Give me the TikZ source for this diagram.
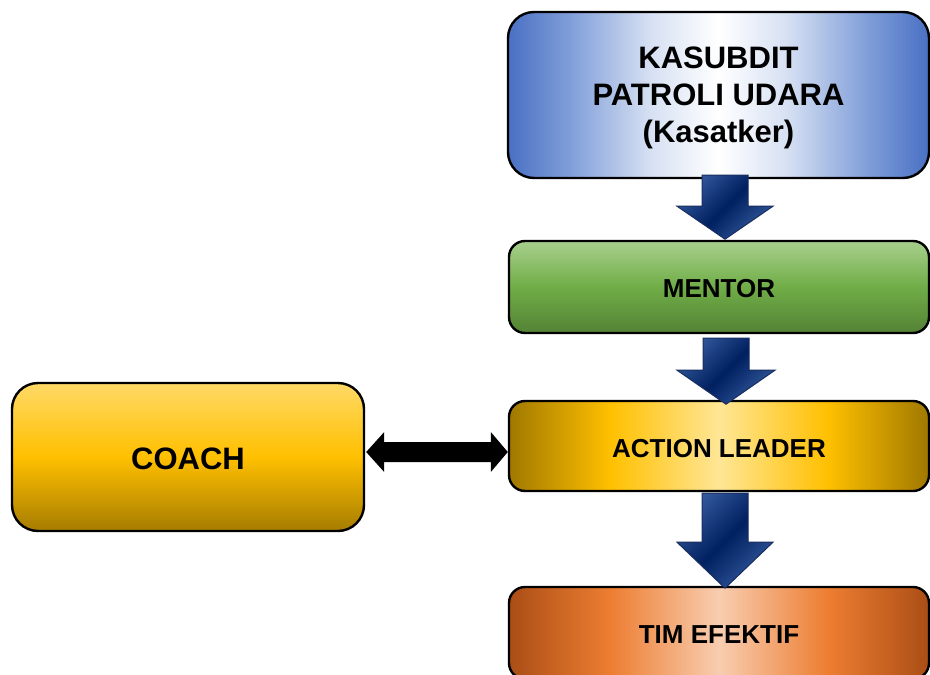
\documentclass[tikz,border=0pt]{standalone}
\usepackage{fontspec}
\setmainfont{Liberation Sans}
\usetikzlibrary{calc}
\definecolor{kasA}{RGB}{74,112,196}
\definecolor{kasB}{RGB}{125,156,216}
\definecolor{kasC}{RGB}{215,225,243}
\definecolor{menTop}{RGB}{168,208,141}
\definecolor{menMid}{RGB}{112,173,71}
\definecolor{menBot}{RGB}{84,130,53}
\definecolor{actEdge}{RGB}{160,120,0}
\definecolor{actMid}{RGB}{255,192,0}
\definecolor{actCen}{RGB}{255,230,150}
\definecolor{timEdge}{RGB}{170,78,22}
\definecolor{timMid}{RGB}{237,125,49}
\definecolor{timCen}{RGB}{248,205,176}
\definecolor{coaTop}{RGB}{255,217,102}
\definecolor{coaMid}{RGB}{255,192,0}
\definecolor{coaBot}{RGB}{166,124,0}
\definecolor{arrL}{RGB}{50,88,156}
\definecolor{arrD}{RGB}{0,32,96}
\definecolor{arrB}{RGB}{25,45,95}
\pgfdeclarehorizontalshading{kasshade}{100bp}{color(0bp)=(kasA); color(25bp)=(kasA); color(32bp)=(kasB); color(42bp)=(kasC); color(50bp)=(white); color(58bp)=(kasC); color(68bp)=(kasB); color(75bp)=(kasA); color(100bp)=(kasA)}
\pgfdeclareverticalshading{menshade}{100bp}{color(0bp)=(menBot); color(25bp)=(menBot); color(50bp)=(menMid); color(75bp)=(menTop); color(100bp)=(menTop)}
\pgfdeclarehorizontalshading{actshade}{100bp}{color(0bp)=(actEdge); color(25bp)=(actEdge); color(37bp)=(actMid); color(50bp)=(actCen); color(63bp)=(actMid); color(75bp)=(actEdge); color(100bp)=(actEdge)}
\pgfdeclarehorizontalshading{timshade}{100bp}{color(0bp)=(timEdge); color(25bp)=(timEdge); color(37bp)=(timMid); color(50bp)=(timCen); color(63bp)=(timMid); color(75bp)=(timEdge); color(100bp)=(timEdge)}
\pgfdeclareverticalshading{coashade}{100bp}{color(0bp)=(coaBot); color(25bp)=(coaBot); color(50bp)=(coaMid); color(75bp)=(coaTop); color(100bp)=(coaTop)}
\begin{document}
\begin{tikzpicture}[x=1pt,y=-1pt,
  box/.style={draw=black, line width=2.4pt, inner sep=0pt, shade,
    font=\bfseries\fontsize{26}{31}\selectfont},
  bluearr/.style={draw=arrB, line width=1pt, top color=arrL, bottom color=arrL, middle color=arrD, shading angle=45},
  dblarr/.style={fill=black}]
\useasboundingbox (0,0) rectangle (930,675);
\node[box, shading=kasshade, minimum width=421pt, minimum height=166pt, rounded corners=26pt,
  font=\bfseries\fontsize{31}{37}\selectfont] (kas) at (718.5,95)
  {\raisebox{-3pt}[\height][\depth]{\begin{tabular}{@{}c@{}}KASUBDIT\\PATROLI UDARA\\(Kasatker)\end{tabular}}};
\node[box, shading=menshade, minimum width=420pt, minimum height=92pt, rounded corners=16pt] (men) at (719,287) {\raisebox{-2pt}[\height][\depth]{MENTOR}};
\node[box, shading=actshade, minimum width=420pt, minimum height=90pt, rounded corners=16pt] (act) at (719,446) {\raisebox{-2.5pt}[\height][\depth]{ACTION LEADER}};
\node[box, shading=timshade, minimum width=420pt, minimum height=92pt, rounded corners=16pt] (tim) at (719,633) {\raisebox{-2pt}[\height][\depth]{TIM EFEKTIF}};
\node[box, shading=coashade, minimum width=352pt, minimum height=148pt, rounded corners=26pt,
  font=\bfseries\fontsize{31}{36}\selectfont] (coach) at (188,457) {\raisebox{-2pt}[\height][\depth]{COACH}};
% blue block arrows
\coordinate (a1) at ($(kas.south)+(6.5,-4)$);
\draw[bluearr] ($(a1)+(-23,0)$) -- ($(a1)+(23,0)$) -- ($(a1)+(23,31)$) -- ($(a1)+(48,31)$) -- ($(a1)+(0,64)$) -- ($(a1)+(-48,31)$) -- ($(a1)+(-23,31)$) -- cycle;
\coordinate (a2) at ($(men.south)+(7,4)$);
\draw[bluearr] ($(a2)+(-23,0)$) -- ($(a2)+(23,0)$) -- ($(a2)+(23,32)$) -- ($(a2)+(49,32)$) -- ($(a2)+(0,66)$) -- ($(a2)+(-49,32)$) -- ($(a2)+(-23,32)$) -- cycle;
\coordinate (a3) at ($(act.south)+(6,1)$);
\draw[bluearr] ($(a3)+(-23,0)$) -- ($(a3)+(23,0)$) -- ($(a3)+(23,49)$) -- ($(a3)+(48,49)$) -- ($(a3)+(0,95)$) -- ($(a3)+(-48,49)$) -- ($(a3)+(-23,49)$) -- cycle;
% double arrow
\coordinate (dl) at ($(coach.east)+(1,-5)$);
\coordinate (dr) at ($(act.west)+(0,6)$);
\fill[dblarr] (dl) -- ($(dl)+(18,-20)$) -- ($(dl)+(18,-10)$) -- ($(dr)+(-17,-10)$) -- ($(dr)+(-17,-20)$) -- (dr) -- ($(dr)+(-17,20)$) -- ($(dr)+(-17,10)$) -- ($(dl)+(18,10)$) -- ($(dl)+(18,20)$) -- cycle;
\end{tikzpicture}
\end{document}
